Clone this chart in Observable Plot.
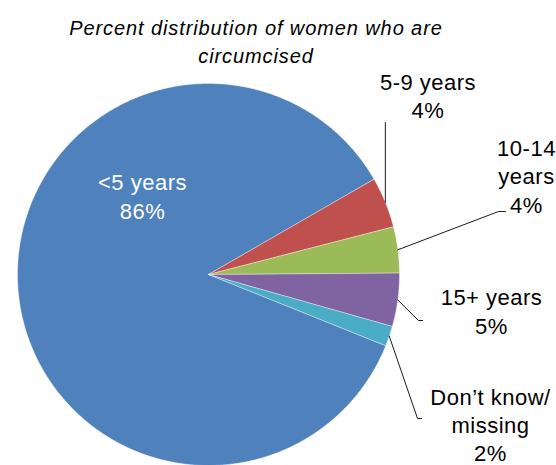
<!DOCTYPE html>
<html>
<head>
<meta charset="utf-8">
<script src="https://cdn.jsdelivr.net/npm/d3@7"></script>
<script src="https://cdn.jsdelivr.net/npm/@observablehq/plot@0.6"></script>
<style>
  html, body { margin: 0; padding: 0; background: #fff; }
  #wrap { position: relative; width: 556px; height: 465px; overflow: hidden; }
  #title {
    position: absolute; left: 0; top: 14px; width: 512px; text-align: center;
    font-family: "Liberation Sans", Arial, sans-serif; font-style: italic;
    font-size: 20px; line-height: 28px; letter-spacing: 0.9px; color: #000;
  }
  #chart { position: absolute; left: 0; top: 0; }
</style>
</head>
<body>
<div id="wrap">
  <div id="chart"></div>
  <div id="title">Percent distribution of women who are<br>circumcised</div>
</div>
<script>
// ---- data ----
const categories = ["<5 years", "5-9 years", "10-14 years", "15+ years", "Don’t know/ missing"];
const values = [85.6, 4.3, 3.9, 4.5, 1.7];
const pctLabels = ["86%", "4%", "4%", "5%", "2%"];
const nameLabels = ["<5 years", "5-9 years", "10-14\nyears", "15+ years", "Don’t know/\nmissing"];
const colors = ["#4F81BD", "#C0504D", "#9BBB59", "#8064A2", "#4BACC6"];

// ---- layout ----
const W = 556, H = 465;
const cx = 208, cy = 274, R = 191;
const startDeg = 111.9;
const ux = px => (px - cx) / R;
const uy = py => (cy - py) / R;

// label anchors (pixel layout: center x, baseline of last line)
const labelLayout = [
  {x: 142, y: 218, fill: "white"},
  {x: 427.5, y: 117.5, fill: "black"},
  {x: 526, y: 212, fill: "black"},
  {x: 491, y: 333, fill: "black"},
  {x: 490, y: 460.5, fill: "black"}
];
// leader elbows/ends (pixel layout), null = no leader
const leaderLayout = [
  null,
  {elbow: [null, 122], end: null},
  {elbow: [498, 211], end: [505, 211]},
  {elbow: [418, 320], end: [422, 320]},
  {elbow: [417, 418], end: [421, 418]}
];

const rad = d => d * Math.PI / 180;
const pie = d3.pie().sort(null)
  .startAngle(rad(startDeg)).endAngle(rad(startDeg + 360));
const arcs = pie(values);

// slice polygons
const slicePts = [];
arcs.forEach((a, i) => {
  const cat = categories[i];
  slicePts.push({cat, x: 0, y: 0});
  const n = Math.max(4, Math.ceil((a.endAngle - a.startAngle) / rad(0.5)));
  for (let k = 0; k <= n; k++) {
    const t = a.startAngle + (a.endAngle - a.startAngle) * k / n;
    slicePts.push({cat, x: Math.sin(t), y: Math.cos(t)});
  }
  slicePts.push({cat, x: 0, y: 0});
});

// leaders
const leaderPts = [];
arcs.forEach((a, i) => {
  const L = leaderLayout[i];
  if (!L) return;
  const mid = (a.startAngle + a.endAngle) / 2;
  const rx = Math.sin(mid), ry = Math.cos(mid);
  leaderPts.push({id: i, x: rx, y: ry});
  const ex = L.elbow[0] == null ? rx : ux(L.elbow[0]);
  leaderPts.push({id: i, x: ex, y: uy(L.elbow[1])});
  if (L.end) leaderPts.push({id: i, x: ux(L.end[0]), y: uy(L.end[1])});
});

const labels = categories.map((c, i) => ({
  text: nameLabels[i] + "\n" + pctLabels[i],
  x: ux(labelLayout[i].x),
  y: uy(labelLayout[i].y),
  fill: labelLayout[i].fill
}));

const plot = Plot.plot({
  width: W, height: H,
  margin: 0,
  style: {background: "white", overflow: "visible"},
  x: {domain: [ux(0), ux(W)], range: [0, W], axis: null},
  y: {domain: [uy(H), uy(0)], range: [H, 0], axis: null},
  color: {domain: categories, range: colors},
  marks: [
    Plot.line(slicePts, {x: "x", y: "y", z: "cat", fill: "cat", stroke: "white", strokeWidth: 0.6, strokeOpacity: 0.6, curve: "linear"}),
    Plot.line(leaderPts, {x: "x", y: "y", z: "id", stroke: "#1a1a1a", strokeWidth: 1}),
    Plot.text(labels, {
      x: "x", y: "y", text: "text", fill: d => d.fill,
      fontSize: 22, lineHeight: 1.28, lineAnchor: "bottom", textAnchor: "middle",
      fontFamily: "Liberation Sans, Arial, sans-serif"
    })
  ]
});
plot.style.letterSpacing = "0.5px";
document.getElementById("chart").appendChild(plot);
</script>
</body>
</html>
